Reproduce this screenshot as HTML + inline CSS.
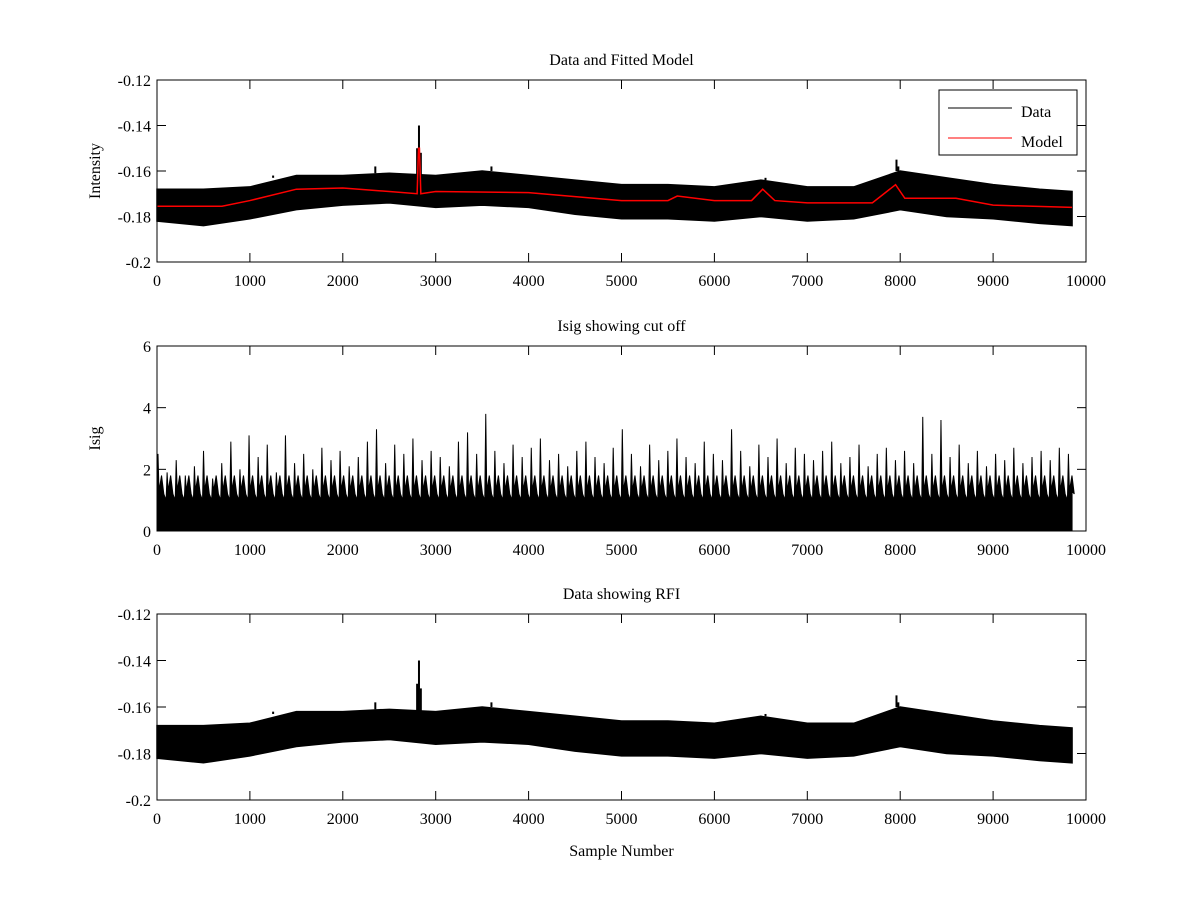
<!DOCTYPE html>
<html><head><meta charset="utf-8"><style>
body{margin:0;background:#fff;}
svg text{font-family:"Liberation Serif",serif;font-size:16px;fill:#000;}
</style></head><body>
<svg id="fig" width="1200" height="900" xmlns="http://www.w3.org/2000/svg"></svg>
<script>
// ---- data ----
const envX=[0,500,1000,1500,2000,2500,3000,3500,4000,4500,5000,5500,6000,6500,7000,7500,8000,8500,9000,9500,9850];
const dataUpper=[-0.168,-0.168,-0.167,-0.162,-0.162,-0.161,-0.162,-0.160,-0.162,-0.164,-0.166,-0.166,-0.167,-0.164,-0.167,-0.167,-0.160,-0.163,-0.166,-0.168,-0.169];
const dataLower=[-0.182,-0.184,-0.181,-0.177,-0.175,-0.174,-0.176,-0.175,-0.176,-0.179,-0.181,-0.181,-0.182,-0.180,-0.182,-0.181,-0.177,-0.180,-0.181,-0.183,-0.184];
const spikeX=[2350,2800,2820,2840,6550,7960,7980,3600,1250];
const spikeY=[-0.158,-0.150,-0.140,-0.152,-0.163,-0.155,-0.158,-0.158,-0.163];
const modelX=[0,700,1000,1500,2000,2500,2800,2815,2825,2840,3000,4000,5000,5500,5600,6000,6400,6520,6650,7000,7700,7950,8050,8600,9000,9850];
const modelY=[-0.1755,-0.1755,-0.173,-0.168,-0.1675,-0.169,-0.170,-0.150,-0.150,-0.170,-0.169,-0.1695,-0.173,-0.173,-0.171,-0.173,-0.173,-0.168,-0.173,-0.174,-0.174,-0.166,-0.172,-0.172,-0.175,-0.176];
const isigBase=1.3;
const isigValley=1.0;
const isigStep=98;
const isigPeaks=[2.5,1.9,2.3,1.8,2.1,2.6,1.7,2.2,2.9,2.0,3.1,2.4,2.8,1.9,3.1,2.2,2.5,2.0,2.7,2.3,2.6,2.1,2.4,2.9,3.3,2.2,2.8,2.5,3.0,2.3,2.6,2.4,2.1,2.9,3.2,2.5,3.8,2.6,2.2,2.8,2.4,2.7,3.0,2.3,2.5,2.1,2.6,2.9,2.4,2.2,2.7,3.3,2.5,2.1,2.8,2.3,2.6,3.0,2.4,2.2,2.9,2.5,2.3,3.3,2.6,2.1,2.8,2.4,3.0,2.2,2.7,2.5,2.3,2.6,2.9,2.2,2.4,2.8,2.1,2.5,2.7,2.3,2.6,2.2,3.7,2.5,3.6,2.4,2.8,2.2,2.6,2.1,2.5,2.3,2.7,2.2,2.4,2.6,2.3,2.7,2.5];
const xTicks=[0,1000,2000,3000,4000,5000,6000,7000,8000,9000,10000];
const yTicksA=[-0.2,-0.18,-0.16,-0.14,-0.12];
const yTicksB=[0,2,4,6];
// ---- layout ----
const NS="http://www.w3.org/2000/svg";
const svg=document.getElementById('fig');
const X0=157,X1=1086;
function sx(v){return X0+(v-0)/(10000-0)*(X1-X0);}
function mk(tag,attrs,parent){const e=document.createElementNS(NS,tag);for(const k in attrs)e.setAttribute(k,attrs[k]);(parent||svg).appendChild(e);return e;}
function makeAxes(top,bot,ymin,ymax,yticks,ylabel,title,name){
  const g=mk('g',{});
  
  
  const sy=v=>bot-(v-ymin)/(ymax-ymin)*(bot-top);
  return {g,sy,top,bot,yticks,ylabel,title,name};
}
function finishAxes(a,fmt){
  const {g,sy,top,bot}=a;
  const box=mk('rect',{x:X0,y:top,width:X1-X0,height:bot-top,fill:'none',stroke:'#000','stroke-width':1},g);
  
  
  xTicks.forEach(t=>{
    const x=sx(t);
    mk('line',{x1:x,y1:bot,x2:x,y2:bot-9,stroke:'#000'},g);
    mk('line',{x1:x,y1:top,x2:x,y2:top+9,stroke:'#000'},g);
    const tx=mk('text',{x:x,y:bot+24,'text-anchor':'middle'},g);tx.textContent=t;
    
    
  });
  a.yticks.forEach(t=>{
    const y=sy(t);
    mk('line',{x1:X0,y1:y,x2:X0+9,y2:y,stroke:'#000'},g);
    mk('line',{x1:X1,y1:y,x2:X1-9,y2:y,stroke:'#000'},g);
    const tx=mk('text',{x:X0-6,y:y+6,'text-anchor':'end'},g);tx.textContent=fmt(t);
    
    
  });
  const tt=mk('text',{x:(X0+X1)/2,y:top-15,'text-anchor':'middle'},g);tt.textContent=a.title;
  
  
  if(a.ylabel){const yl=mk('text',{x:0,y:0,'text-anchor':'middle',transform:`translate(100,${(top+bot)/2}) rotate(-90)`},g);yl.textContent=a.ylabel;
  
  }
}
function drawData(a){
  let d='M'+envX.map((v,i)=>sx(v)+','+a.sy(dataUpper[i])).join('L');
  for(let i=envX.length-1;i>=0;i--)d+='L'+sx(envX[i])+','+a.sy(dataLower[i]);
  const p=mk('path',{d:d+'Z',fill:'#000',stroke:'#000','stroke-width':1.5},a.g);
  
  
  spikeX.forEach((v,i)=>{
    const j=Math.min(envX.length-1,Math.round(v/500));
    const l=mk('line',{x1:sx(v),x2:sx(v),y1:a.sy(dataUpper[j]),y2:a.sy(spikeY[i]),stroke:'#000','stroke-width':2},a.g);
    
    
  });
}
const fmt2=t=>t===-0.2?'-0.2':t.toFixed(2);
// panel 1
const A=makeAxes(80,262,-0.2,-0.12,yTicksA,'Intensity','Data and Fitted Model','data-model-axes');
drawData(A);
const mp=mk('polyline',{points:modelX.map((v,i)=>sx(v)+','+A.sy(modelY[i])).join(' '),fill:'none',stroke:'#f00','stroke-width':1.5},A.g);


finishAxes(A,fmt2);
// legend
const lg=mk('g',{});


mk('rect',{x:939,y:90,width:138,height:65,fill:'#fff',stroke:'#000'},lg);
mk('line',{x1:948,x2:1012,y1:108,y2:108,stroke:'#000'},lg);
mk('line',{x1:948,x2:1012,y1:138,y2:138,stroke:'#f00'},lg);
const l1=mk('text',{x:1021,y:117},lg);l1.textContent='Data';


const l2=mk('text',{x:1021,y:147},lg);l2.textContent='Model';


// panel 2
const B=makeAxes(346,531,0,6,yTicksB,'Isig','Isig showing cut off','isig-axes');
const bp=mk('rect',{x:sx(0),y:B.sy(isigValley),width:sx(9850)-sx(0),height:B.sy(0)-B.sy(isigValley),fill:'#000'},B.g);


let zz='M'+sx(0)+','+B.sy(0);
isigPeaks.forEach((v,i)=>{
  const x=sx(i*isigStep);
  zz+='L'+x+','+B.sy(isigValley)+'L'+(x+1)+','+B.sy(v)+'L'+(x+2)+','+B.sy(isigBase)+'L'+sx(i*isigStep+isigStep/2)+','+B.sy(isigBase+0.5)+'L'+sx(i*isigStep+isigStep*0.75)+','+B.sy(isigValley+0.2);
});
zz+='L'+sx(9850)+','+B.sy(isigBase)+'L'+sx(9850)+','+B.sy(0)+'Z';
const zp=mk('path',{d:zz,fill:'#000',stroke:'#000','stroke-width':1},B.g);


finishAxes(B,t=>String(t));
// panel 3
const C=makeAxes(614,800,-0.2,-0.12,yTicksA,'','Data showing RFI','rfi-axes');
drawData(C);
finishAxes(C,fmt2);
const xl=mk('text',{x:(X0+X1)/2,y:856,'text-anchor':'middle'});xl.textContent='Sample Number';


</script>
</body></html>
